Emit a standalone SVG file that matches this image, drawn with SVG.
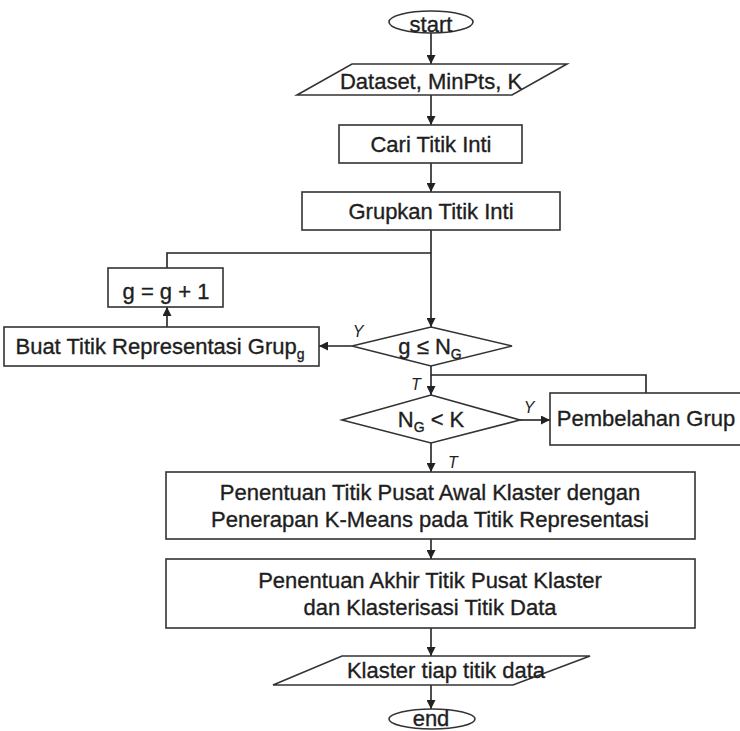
<svg xmlns="http://www.w3.org/2000/svg" width="740" height="731" viewBox="0 0 740 731">
<defs>
<marker id="ah" viewBox="0 0 10 10" refX="10" refY="5" markerWidth="9" markerHeight="9" markerUnits="userSpaceOnUse" orient="auto">
<path d="M0,0 L10,5 L0,10 z" fill="#222"/>
</marker>
<style>
.s{fill:#fff;stroke:#333;stroke-width:1.6}
.t{font-family:"Liberation Sans",Arial,sans-serif;font-size:22px;fill:#1e1e1e;stroke:#1e1e1e;stroke-width:0.35;text-anchor:middle}
.l{font-family:"Liberation Sans",Arial,sans-serif;font-size:16px;font-style:italic;fill:#1e1e1e;text-anchor:middle}
.c{fill:none;stroke:#222;stroke-width:1.6}
.a{marker-end:url(#ah)}
</style>
</defs>
<rect width="740" height="731" fill="#fff"/>
<g id="connectors">
<path class="c a" d="M431,33 V64"/>
<path class="c a" d="M431,95 V125"/>
<path class="c a" d="M431,163 V192"/>
<path class="c a" d="M431,230 V327"/>
<path class="c a" d="M167,327 V307"/>
<path class="c" d="M167,268 V253 H431"/>
<path class="c a" d="M352,346 H319"/>
<path class="c a" d="M431,366 V395"/>
<path class="c" d="M646,393 V375 H431"/>
<path class="c a" d="M520,420 H550"/>
<path class="c a" d="M431,443 V472"/>
<path class="c a" d="M431,539 V559"/>
<path class="c a" d="M431,628 V656"/>
<path class="c a" d="M431,685 V709"/>
<text class="l" x="358" y="337">Y</text>
<text class="l" x="416" y="390">T</text>
<text class="l" x="529" y="413">Y</text>
<text class="l" x="453" y="468">T</text>
</g>
<g id="start">
<ellipse class="s" cx="431" cy="22" rx="42" ry="11"/>
<text class="t" x="431" y="32">start</text>
</g>
<g id="input">
<polygon class="s" points="352,64 567,64 512,95 297,95"/>
<text class="t" x="431" y="89">Dataset, MinPts, K</text>
</g>
<g id="cari">
<rect class="s" x="339" y="125" width="183" height="38"/>
<text class="t" x="431" y="152">Cari Titik Inti</text>
</g>
<g id="grupkan">
<rect class="s" x="302" y="192" width="258" height="38"/>
<text class="t" x="431" y="219">Grupkan Titik Inti</text>
</g>
<g id="inc">
<rect class="s" x="108" y="268" width="115" height="39"/>
<text class="t" x="166" y="299">g = g + 1</text>
</g>
<g id="buat">
<rect class="s" x="4" y="327" width="315" height="39"/>
<text class="t" x="160" y="354">Buat Titik Representasi Grup<tspan font-size="14" dy="5">g</tspan></text>
</g>
<g id="cond1">
<polygon class="s" points="431,327 512,346 431,366 352,346"/>
<text class="t" x="430" y="354">g ≤ N<tspan font-size="14" dy="5">G</tspan></text>
</g>
<g id="cond2">
<polygon class="s" points="431,395 520,420 431,443 342,420"/>
<text class="t" x="431" y="427">N<tspan font-size="14" dy="5">G</tspan><tspan dy="-5"> &lt; K</tspan></text>
</g>
<g id="pembelahan">
<rect class="s" x="550" y="393" width="200" height="52"/>
<text class="t" x="646" y="426">Pembelahan Grup</text>
</g>
<g id="awal">
<rect class="s" x="166" y="472" width="529" height="67"/>
<text class="t" x="430" y="500">Penentuan Titik Pusat Awal Klaster dengan</text>
<text class="t" x="430" y="527">Penerapan K-Means pada Titik Representasi</text>
</g>
<g id="akhir">
<rect class="s" x="166" y="559" width="529" height="69"/>
<text class="t" x="430" y="588">Penentuan Akhir Titik Pusat Klaster</text>
<text class="t" x="430" y="615">dan Klasterisasi Titik Data</text>
</g>
<g id="output">
<polygon class="s" points="342,656 590,656 513,685 273,685"/>
<text class="t" x="446" y="678">Klaster tiap titik data</text>
</g>
<g id="end">
<ellipse class="s" cx="432" cy="719" rx="43" ry="10"/>
<text class="t" x="431" y="726" font-size="19">end</text>
</g>
</svg>
